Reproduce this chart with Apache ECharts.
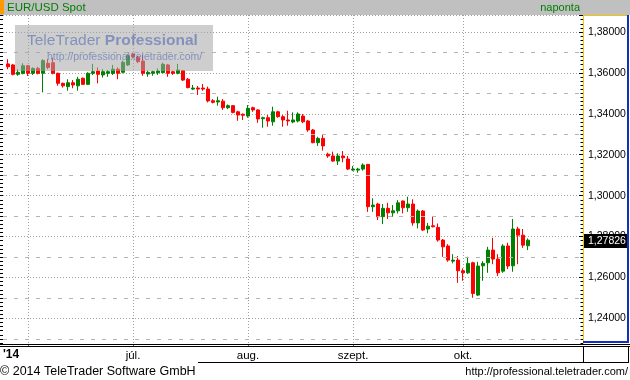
<!DOCTYPE html>
<html><head><meta charset="utf-8">
<script src="https://cdn.jsdelivr.net/npm/echarts@6/dist/echarts.min.js"></script>
<style>html,body{margin:0;padding:0;background:#fff;overflow:hidden}#c{width:630px;height:380px}</style>
</head><body><div id="c"></div>
<script>
const title = 'EUR/USD Spot';
const periodLabel = 'naponta';
const firstDate = '2014-05-27';
const yearLabel = "'14";
const monthNames = {6: 'júl.', 7: 'aug.', 8: 'szept.', 9: 'okt.'};
const footerLeft = '© 2014 TeleTrader Software GmbH';
const footerRight = 'http://professional.teletrader.com/';
const wmTitleA = 'TeleTrader ';
const wmTitleB = 'Professional';
const wmUrl = 'http://professional.teletrader.com/';
const lastPrice = 1.27826;
const midLines = [1.23, 1.25, 1.27, 1.29, 1.31, 1.33, 1.35, 1.37];
const yMin = 1.2275, yMax = 1.3883;

const opens = [1.3644,1.3639,1.3593,1.3598,1.3635,1.3598,1.3622,1.3598,1.3647,1.3650,
1.3598,1.3549,1.3533,1.3552,1.3537,1.3574,1.3544,1.3598,1.3609,1.3590,
1.3598,1.3598,1.3618,1.3603,1.3639,1.3692,1.3676,1.3658,1.3595,1.3598,
1.3601,1.3601,1.3639,1.3606,1.3598,1.3611,1.3569,1.3521,1.3526,1.3526,
1.3521,1.3464,1.3458,1.3462,1.3430,1.3440,1.3410,1.3398,1.3389,1.3430,
1.3419,1.3376,1.3381,1.3361,1.3410,1.3386,1.3370,1.3360,1.3365,1.3389,
1.3365,1.3321,1.3259,1.3280,1.3203,1.3194,1.3169,1.3194,1.3179,1.3125,
1.3125,1.3130,1.3153,1.2946,1.2959,1.2897,1.2938,1.2916,1.2926,1.2974,
1.2941,1.2959,1.2867,1.2925,1.2837,1.2853,1.2845,1.2783,1.2754,1.2680,
1.2685,1.2633,1.2623,1.2672,1.2514,1.2657,1.2672,1.2734,1.2690,1.2631,
1.2754,1.2657,1.2837,1.2807,1.2755];
const closes = [1.3630,1.3593,1.3603,1.3635,1.3598,1.3622,1.3598,1.3660,1.3627,1.3598,
1.3549,1.3537,1.3552,1.3541,1.3569,1.3544,1.3598,1.3606,1.3593,1.3606,
1.3606,1.3618,1.3598,1.3652,1.3684,1.3679,1.3655,1.3598,1.3603,1.3606,
1.3609,1.3642,1.3598,1.3598,1.3614,1.3565,1.3528,1.3526,1.3521,1.3521,
1.3463,1.3456,1.3464,1.3430,1.3440,1.3407,1.3394,1.3393,1.3427,1.3419,
1.3375,1.3381,1.3365,1.3410,1.3386,1.3370,1.3365,1.3370,1.3399,1.3361,
1.3321,1.3259,1.3280,1.3243,1.3194,1.3169,1.3194,1.3185,1.3130,1.3130,
1.3130,1.3150,1.2946,1.2954,1.2897,1.2938,1.2916,1.2926,1.2965,1.2941,
1.2959,1.2867,1.2925,1.2832,1.2851,1.2848,1.2783,1.2750,1.2685,1.2685,
1.2633,1.2623,1.2669,1.2522,1.2656,1.2669,1.2734,1.2690,1.2623,1.2754,
1.2656,1.2837,1.2807,1.2758,1.27826];
const lows = [1.3618,1.3588,1.3586,1.3593,1.3585,1.3590,1.3593,1.3505,1.3618,1.3593,
1.3537,1.3528,1.3513,1.3525,1.3513,1.3541,1.3541,1.3590,1.3549,1.3577,
1.3581,1.3590,1.3569,1.3598,1.3634,1.3671,1.3648,1.3586,1.3581,1.3586,
1.3590,1.3598,1.3581,1.3590,1.3593,1.3560,1.3525,1.3516,1.3492,1.3513,
1.3456,1.3451,1.3440,1.3419,1.3423,1.3402,1.3366,1.3370,1.3381,1.3410,
1.3356,1.3332,1.3337,1.3342,1.3381,1.3337,1.3342,1.3354,1.3358,1.3354,
1.3312,1.3256,1.3243,1.3220,1.3185,1.3166,1.3150,1.3163,1.3125,1.3120,
1.3112,1.3122,1.2921,1.2921,1.2881,1.2861,1.2886,1.2897,1.2913,1.2913,
1.2921,1.2853,1.2840,1.2827,1.2816,1.2845,1.2775,1.2701,1.2677,1.2669,
1.2574,1.2584,1.2617,1.2501,1.2509,1.2584,1.2623,1.2665,1.2607,1.2623,
1.2641,1.2628,1.2665,1.2745,1.2734];
const highs = [1.3667,1.3644,1.3618,1.3647,1.3639,1.3627,1.3630,1.3667,1.3667,1.3674,
1.3601,1.3552,1.3569,1.3565,1.3581,1.3577,1.3603,1.3644,1.3627,1.3618,
1.3614,1.3639,1.3627,1.3660,1.3692,1.3699,1.3683,1.3688,1.3611,1.3611,
1.3622,1.3650,1.3644,1.3611,1.3644,1.3614,1.3575,1.3541,1.3536,1.3546,
1.3533,1.3472,1.3484,1.3472,1.3446,1.3443,1.3415,1.3402,1.3443,1.3435,
1.3422,1.3386,1.3394,1.3435,1.3415,1.3394,1.3415,1.3407,1.3407,1.3399,
1.3370,1.3326,1.3288,1.3296,1.3210,1.3215,1.3207,1.3218,1.3194,1.3145,
1.3136,1.3158,1.3155,1.2987,1.2965,1.2959,1.2965,1.2954,1.2978,1.2976,
1.2995,1.2982,1.2933,1.2930,1.2867,1.2900,1.2864,1.2788,1.2763,1.2714,
1.2705,1.2645,1.2701,1.2677,1.2677,1.2680,1.2750,1.2794,1.2714,1.2763,
1.2770,1.2886,1.2848,1.2837,1.2791];

// trading-day categories (weekdays) with one blank slot before and blank slots after
const tradingDates = [];
(function () {
  const d = new Date(firstDate + 'T00:00:00Z');
  while (tradingDates.length < opens.length) {
    const wd = d.getUTCDay();
    if (wd !== 0 && wd !== 6) tradingDates.push(d.toISOString().slice(0, 10));
    d.setUTCDate(d.getUTCDate() + 1);
  }
})();
const trailingSlots = 11;
const categories = [''].concat(tradingDates, new Array(trailingSlots).fill(''));
const candleData = ['-'].concat(opens.map((o, i) => [o, closes[i], lows[i], highs[i]]));

function isMonthStart(idx) {
  const c = categories[idx], p = categories[idx - 1];
  if (!c || !p) return false;
  return c.slice(5, 7) !== p.slice(5, 7);
}

const FONT = 'Liberation Sans';
const chart = echarts.init(document.getElementById('c'), null, {renderer: 'canvas'});
const gridL = 3, gridR = 47, gridT = 15, gridB = 36;

chart.setOption({
  animation: false,
  backgroundColor: '#fff',
  grid: {left: gridL, right: gridR, top: gridT, bottom: gridB, containLabel: false},
  xAxis: {
    type: 'category', data: categories, boundaryGap: false,
    axisLine: {show: true, lineStyle: {color: '#000', width: 1}},
    axisTick: {show: true, length: 2.5, interval: (i) => isMonthStart(i), lineStyle: {color: '#707070'}},
    axisLabel: {
      show: true, interval: (i) => isMonthStart(i), margin: 6,
      formatter: (v) => monthNames[parseInt(v.slice(5, 7), 10) - 1] || '',
      color: '#000', fontFamily: FONT, fontSize: 11.5
    },
    splitLine: {show: true, interval: (i) => isMonthStart(i), lineStyle: {color: '#a0a0a0', type: [1, 2], width: 1}}
  },
  yAxis: [{
    type: 'value', position: 'right', min: yMin, max: yMax, scale: true,
    splitNumber: 8, minInterval: 0.02, maxInterval: 0.02,
    axisLine: {show: true, lineStyle: {color: '#f5c400', width: 1}},
    axisTick: {show: true, inside: true, length: 4, lineStyle: {color: '#000'}},
    minorTick: {show: true, splitNumber: 10, length: 2.5, lineStyle: {color: '#000'}},
    axisLabel: {
      show: true, margin: 5, color: '#000', fontFamily: FONT, fontSize: 10.5,
      showMinLabel: false, showMaxLabel: false, padding: [4, 0, 0, 0],
      formatter: (v) => v.toFixed(5).replace('.', ',')
    },
    splitLine: {show: true, lineStyle: {color: '#a0a0a0', type: [1, 2], width: 1}}
  }, {
    type: 'value', position: 'left', min: yMin, max: yMax, scale: true,
    splitNumber: 8, minInterval: 0.02, maxInterval: 0.02,
    axisLine: {show: false},
    axisTick: {show: true, inside: false, length: 3, lineStyle: {color: '#000'}},
    minorTick: {show: true, splitNumber: 10, length: 3, lineStyle: {color: '#000'}},
    axisLabel: {show: false},
    splitLine: {show: false}
  }],
  series: [{
    type: 'candlestick', name: title, data: candleData, yAxisIndex: 0,
    barWidth: 3, clip: false,
    itemStyle: {color: '#008000', color0: '#ff0000', borderColor: '#008000', borderColor0: '#ff0000', borderWidth: 1},
    markLine: {
      silent: true, symbol: ['none', 'none'], label: {show: false},
      lineStyle: {color: '#b4b4b4', type: [4, 7], width: 1},
      emphasis: {disabled: true},
      data: midLines.map(v => ({yAxis: v}))
    }
  }]
});

const py = chart.convertToPixel({yAxisIndex: 0}, lastPrice);
const W = 630;
const plotRight = W - gridR;
chart.setOption({
  graphic: [
    {type: 'rect', z: 100, shape: {x: 0, y: 0, width: W, height: 15}, style: {fill: '#c0c0c0'}},
    {type: 'rect', z: 101, shape: {x: 0, y: 0, width: 4, height: 14}, style: {fill: '#ff9900'}},
    {type: 'text', z: 101, x: 7, y: 7.5, style: {text: title, fill: '#008000', font: '11.5px "' + FONT + '"', verticalAlign: 'middle'}},
    {type: 'text', z: 101, x: 580, y: 7.5, style: {text: periodLabel, fill: '#008000', font: '11px "' + FONT + '"', align: 'right', verticalAlign: 'middle'}},
    // right panel borders
    {type: 'line', z: 101, shape: {x1: plotRight + 0.5, y1: 15.5, x2: 627, y2: 15.5}, style: {stroke: '#f5c400', lineWidth: 1}},
    {type: 'rect', z: 101, shape: {x: 627, y: 15, width: 2, height: 328}, style: {fill: '#1030c0'}},
    {type: 'rect', z: 101, shape: {x: plotRight, y: 341, width: 46, height: 2}, style: {fill: '#1030c0'}},
    // bottom frame lines
    {type: 'line', z: 101, shape: {x1: 0, y1: 344.5, x2: W, y2: 344.5}, style: {stroke: '#000', lineWidth: 1}},
    {type: 'line', z: 101, shape: {x1: 0, y1: 346.5, x2: W, y2: 346.5}, style: {stroke: '#000', lineWidth: 1}},
    {type: 'line', z: 101, shape: {x1: plotRight + 0.5, y1: 346, x2: plotRight + 0.5, y2: 363}, style: {stroke: '#000', lineWidth: 1}},
    {type: 'line', z: 101, shape: {x1: 628.5, y1: 346, x2: 628.5, y2: 363}, style: {stroke: '#000', lineWidth: 1}},
    {type: 'line', z: 101, shape: {x1: 198, y1: 362.5, x2: 629, y2: 362.5}, style: {stroke: '#000', lineWidth: 1}},
    {type: 'text', z: 101, x: 3, y: 355, style: {text: yearLabel, fill: '#000', font: 'bold 12px "' + FONT + '"', verticalAlign: 'middle'}},
    // footer
    {type: 'text', z: 101, x: 0, y: 371.5, style: {text: footerLeft, fill: '#000', font: '12.5px "' + FONT + '"', verticalAlign: 'middle'}},
    {type: 'text', z: 101, x: 628, y: 371.5, style: {text: footerRight, fill: '#000', font: '11px "' + FONT + '"', align: 'right', verticalAlign: 'middle'}},
    // watermark
    {type: 'rect', z: 110, shape: {x: 15, y: 25, width: 198, height: 46}, style: {fill: 'rgba(165,165,165,0.55)'}},
    {type: 'text', z: 111, x: 27, y: 41, style: {
      text: '{a|' + wmTitleA + '}{b|' + wmTitleB + '}', verticalAlign: 'middle',
      rich: {a: {fill: 'rgba(70,95,175,0.55)', font: '15.5px "' + FONT + '"'}, b: {fill: 'rgba(70,95,175,0.55)', font: 'bold 15.5px "' + FONT + '"'}}
    }},
    {type: 'text', z: 111, x: 47, y: 57, style: {text: wmUrl, fill: 'rgba(70,95,175,0.55)', font: '10.5px "' + FONT + '"', verticalAlign: 'middle'}},
    // last price box
    {type: 'rect', z: 120, shape: {x: plotRight + 1, y: Math.round(py) - 6, width: 43, height: 14}, style: {fill: '#000'}},
    {type: 'text', z: 121, x: plotRight + 5, y: Math.round(py) + 1, style: {text: lastPrice.toFixed(5).replace('.', ','), fill: '#fff', font: '10.5px "' + FONT + '"', verticalAlign: 'middle'}}
  ]
});
</script>
</body></html>
